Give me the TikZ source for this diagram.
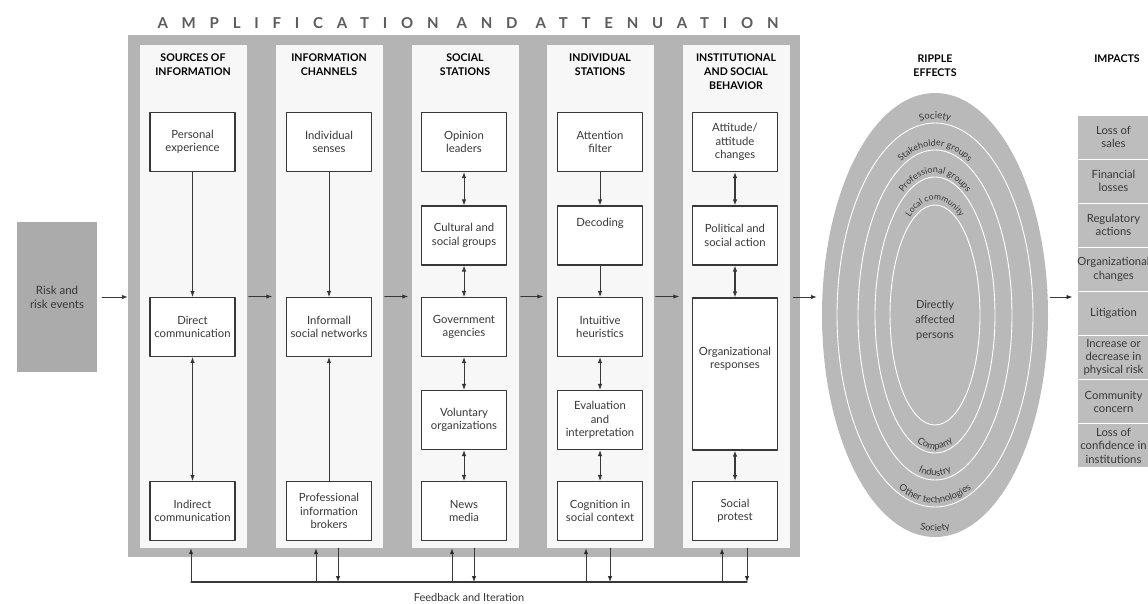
\documentclass[tikz,border=0pt]{standalone}
\usepackage{fontspec}
\setmainfont{Lato}
\usetikzlibrary{arrows.meta,shapes.geometric,decorations.text}

\definecolor{framegray}{HTML}{B4B4B4}
\definecolor{panelwhite}{HTML}{F7F7F7}
\definecolor{riskgray}{HTML}{ABABAB}
\definecolor{ripplegray}{HTML}{B9B9B9}
\definecolor{impactgray}{HTML}{BDBDBD}
\definecolor{inkgray}{HTML}{383838}
\definecolor{titlegray}{HTML}{5C5C5C}

\begin{document}
\begin{tikzpicture}[x=1pt,y=-1pt,line cap=round,line join=round,
  >={Latex[length=6pt,width=4.5pt]},
  box/.style={draw=inkgray,line width=1.1pt,fill=white,minimum width=85pt,
    minimum height=59pt,inner sep=1pt,align=center,
    font=\fontsize{11.3}{13.5}\selectfont,text=inkgray},
  head/.style={anchor=north,align=center,text=black,
    font=\bfseries\fontsize{10.6}{14}\selectfont},
  flow/.style={draw=inkgray,line width=0.9pt,->},
  both/.style={draw=inkgray,line width=0.9pt,<->},
  ring/.style={draw=white,line width=0.9pt},
  impact/.style={fill=impactgray,draw=white,line width=1pt,minimum width=73pt,
    minimum height=44.1pt,inner sep=0pt,align=center,
    font=\fontsize{11.3}{13.2}\selectfont,text=inkgray}]
  \useasboundingbox (0,0) rectangle (1148,603);
  \fill[white] (0,0) rectangle (1148,603);
  \coordinate (row) at (0,297);

  % amplification frame and its five stations
  \node[fill=framegray,inner sep=0pt,minimum width=672pt,minimum height=522pt]
    (frame) at (464,296) {};
  \node[text=titlegray,font=\bfseries\fontsize{15}{15}\selectfont] (title) at (468,23)
    {\addfontfeature{LetterSpace=92}AMPLIFICATION\hspace*{18pt}AND\hspace*{18pt}ATTENUATION};
  \foreach \cx [count=\i] in {193,329,465,600,736} {
    \node[fill=panelwhite,inner sep=0pt,minimum width=107pt,minimum height=503pt]
      (p\i) at (\cx,296.5) {};
  }
  \node[head] (h1) at (193,50) {SOURCES OF\\INFORMATION};
  \node[head] (h2) at (329,50) {INFORMATION\\CHANNELS};
  \node[head] (h3) at (465,50) {SOCIAL\\STATIONS};
  \node[head] (h4) at (600,50) {INDIVIDUAL\\STATIONS};
  \node[head] (h5) at (736,50) {INSTITUTIONAL\\AND SOCIAL\\BEHAVIOR};

  \def\ra{142}
  \def\rb{235.5}
  \def\rc{327}
  \def\rd{420}
  \def\re{511}
  \node[box] (pers) at (192.5,\ra) {Personal\\experience};
  \node[box] (direct) at (192.5,\rc) {Direct\\communication};
  \node[box] (indir) at (192.5,\re) {Indirect\\communication};

  \node[box] (senses) at (329,\ra) {Individual\\senses};
  \node[box] (informal) at (329,\rc) {Informall\\social networks};
  \node[box] (brokers) at (329,\re) {Professional\\information\\brokers};

  \node[box] (opinion) at (464,\ra) {Opinion\\leaders};
  \node[box] (cultural) at (464,\rb) {Cultural and\\social groups};
  \node[box] (govt) at (464,\rc) {Government\\agencies};
  \node[box] (volunt) at (464,\rd) {Voluntary\\organizations};
  \node[box] (news) at (464,\re) {News\\media};

  \node[box] (attn) at (600,\ra) {Attention\\filter};
  \node[box,label={[anchor=north,yshift=-9pt,text=inkgray,
    font=\fontsize{11.3}{13.5}\selectfont]north:Decoding}] (decod) at (600,\rb) {};
  \node[box] (intuit) at (600,\rc) {Intuitive\\heuristics};
  \node[box] (evalu) at (600,\rd) {Evaluation\\and\\interpretation};
  \node[box] (cogn) at (600,\re) {Cognition in\\social context};

  \node[box] (attit) at (735,\ra) {Attitude/\\attitude\\changes};
  \node[box] (polit) at (735,\rb) {Political and\\social action};
  \node[box,minimum height=152pt,label={[anchor=north,yshift=-46pt,align=center,
    text=inkgray,font=\fontsize{11.3}{13.5}\selectfont]north:Organizational\\responses}]
    (orgresp) at (735,374) {};
  \node[box] (protest) at (735,\re) {Social\\protest};

  \draw[flow] (pers) -- (direct);
  \draw[both] (direct) -- (indir);
  \draw[flow] (senses) -- (informal);
  \draw[flow] (brokers) -- (informal);
  \draw[both] (opinion) -- (cultural);
  \draw[both] (cultural) -- (govt);
  \draw[both] (govt) -- (volunt);
  \draw[both] (volunt) -- (news);
  \draw[flow] (attn) -- (decod);
  \draw[flow] (decod) -- (intuit);
  \draw[both] (intuit) -- (evalu);
  \draw[both] (evalu) -- (cogn);
  \draw[both,line width=1.8pt] (attit) -- (polit);
  \draw[both,line width=1.8pt] (polit) -- (orgresp);
  \draw[both,line width=1.8pt] (orgresp) -- (protest);

  % risk events feeding in
  \node[fill=riskgray,inner sep=0pt,minimum width=80pt,minimum height=150pt,
    align=center,text=inkgray,font=\fontsize{11.5}{14}\selectfont]
    (risk) at (57,297) {Risk and\\risk events};
  \draw[flow,shorten <=5pt] (risk) -- (frame.west |- risk);
  \foreach \i/\j in {1/2,2/3,3/4,4/5} {
    \draw[flow,shorten <=2pt,shorten >=3pt] (p\i.east) -- (p\j.west);
  }

  % ripple effects
  \node[head] (hr) at (935,51) {RIPPLE\\EFFECTS};
  \node[ellipse,fill=ripplegray,inner sep=0pt,minimum width=226pt,minimum height=444pt]
    (ripple) at (935,315) {};
  \foreach \rx/\ry in {98pt/192pt,77pt/165pt,60pt/138pt,45pt/110pt} {
    \draw[ring] (ripple.center) ellipse [x radius=\rx,y radius=\ry];
  }
  \node[align=center,text=inkgray,font=\fontsize{11}{15}\selectfont] (affected)
    at (935,320) {Directly\\affected\\persons};
  \path[decorate,decoration={text along path,text align=center,text color=inkgray,
    text={|\fontsize{9.5}{10}\selectfont|Society}}]
    ([shift={(160:100pt and 196pt)}]ripple.center)
    arc[start angle=160,end angle=20,x radius=100pt,y radius=196pt];
  \path[decorate,decoration={text along path,text align=center,text color=inkgray,
    text={|\fontsize{9}{10}\selectfont|Stakeholder groups}}]
    ([shift={(160:80pt and 169pt)}]ripple.center)
    arc[start angle=160,end angle=20,x radius=80pt,y radius=169pt];
  \path[decorate,decoration={text along path,text align=center,text color=inkgray,
    text={|\fontsize{9}{10}\selectfont|Professional groups}}]
    ([shift={(170:63pt and 142pt)}]ripple.center)
    arc[start angle=170,end angle=10,x radius=63pt,y radius=142pt];
  \path[decorate,decoration={text along path,text align=center,text color=inkgray,
    text={|\fontsize{8.5}{10}\selectfont|Local community}}]
    ([shift={(175:48pt and 115pt)}]ripple.center)
    arc[start angle=175,end angle=5,x radius=48pt,y radius=115pt];
  \path[decorate,decoration={text along path,text align=center,text color=inkgray,
    text={|\fontsize{9.5}{10}\selectfont|Company}}]
    ([shift={(190:57pt and 134pt)}]ripple.center)
    arc[start angle=190,end angle=350,x radius=57pt,y radius=134pt];
  \path[decorate,decoration={text along path,text align=center,text color=inkgray,
    text={|\fontsize{9.5}{10}\selectfont|Industry}}]
    ([shift={(190:74pt and 161pt)}]ripple.center)
    arc[start angle=190,end angle=350,x radius=74pt,y radius=161pt];
  \path[decorate,decoration={text along path,text align=center,text color=inkgray,
    text={|\fontsize{9.5}{10}\selectfont|Other technologies}}]
    ([shift={(190:95pt and 188pt)}]ripple.center)
    arc[start angle=190,end angle=350,x radius=95pt,y radius=188pt];
  \path[decorate,decoration={text along path,text align=center,text color=inkgray,
    text={|\fontsize{9.5}{10}\selectfont|Society}}]
    ([shift={(200:110pt and 216pt)}]ripple.center)
    arc[start angle=200,end angle=340,x radius=110pt,y radius=216pt];
  \draw[flow,shorten <=-7pt,shorten >=5pt] (frame.east |- row) -- (ripple.west |- row);

  % impacts
  \node[head] (hi) at (1117,51) {IMPACTS};
  \foreach \t [count=\i] in {{Loss of\\sales},{Financial\\losses},{Regulatory\\actions},
      {Organizational\\changes},{Litigation},{Increase or\\decrease in\\physical risk},
      {Community\\concern},{Loss of\\confidence in\\institutions}} {
    \node[impact] (imp\i) at (1113.5,{115+44.1*(\i-0.5)}) {\t};
  }
  \draw[flow,shorten <=2pt,shorten >=4pt] (ripple.east |- row) -- (imp5.west |- row);

  % feedback loop
  \foreach \x [count=\i] in {191,316,452,586,722} {
    \coordinate (up\i) at (\x,582);
    \draw[flow] (up\i) -- (up\i |- p1.south);
  }
  \foreach \x [count=\i] in {338,474,610,747} {
    \coordinate (dn\i) at (\x,582);
    \draw[flow] (dn\i |- p1.south) -- (dn\i);
  }
  \draw[draw=inkgray,line width=1.1pt] (up1) -- (dn4);
  \node[text=inkgray,font=\fontsize{11}{12}\selectfont] (fbtext) at (469,597)
    {Feedback and Iteration};
\end{tikzpicture}
\end{document}
